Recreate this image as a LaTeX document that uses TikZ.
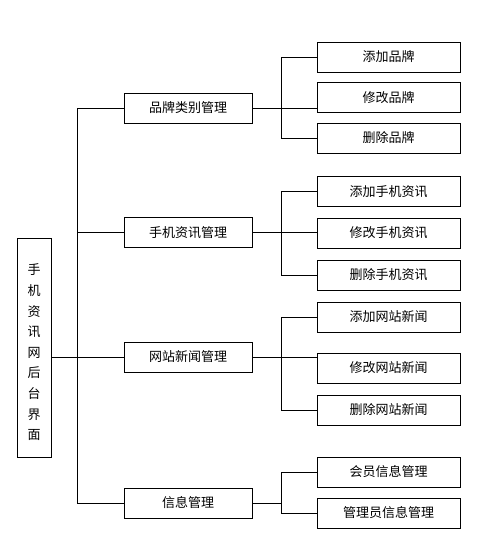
\documentclass[tikz,border=0pt]{standalone}
\usepackage{fontspec}
\newfontfamily\cjk{Noto Sans CJK SC}
\begin{document}
\begin{tikzpicture}[x=1pt,y=-1pt,line width=0.8pt]
        \tikzstyle{every node}=[draw,shape=rectangle,font=\cjk\fontsize{13}{15}\selectfont,line width=0.8pt];
        \tikzstyle{midbox}=[minimum width=128pt,minimum height=30pt];
        \tikzstyle{leafbox}=[minimum width=143pt,minimum height=30pt];
        \useasboundingbox (0,0) rectangle (485,555);
        % root
        \node[minimum width=34pt,minimum height=219pt,align=center,
              font=\cjk\fontsize{13}{20.6}\selectfont] (root) at (34,347.5)
              {\mbox{}\\手\\机\\资\\讯\\网\\后\\台\\界\\面};
        % second level
        \node[midbox] (brand) at (188,108) {品牌类别管理};
        \node[midbox] (phone) at (188,232.5) {手机资讯管理};
        \node[midbox] (news) at (188,357) {网站新闻管理};
        \node[midbox] (info) at (188,503) {信息管理};
        % leaves
        \node[leafbox] (addbrand) at (388.5,57) {添加品牌};
        \node[leafbox] (editbrand) at (388.5,97.5) {修改品牌};
        \node[leafbox] (delbrand) at (388.5,138) {删除品牌};
        \node[leafbox] (addphone) at (388.5,191.5) {添加手机资讯};
        \node[leafbox] (editphone) at (388.5,233) {修改手机资讯};
        \node[leafbox] (delphone) at (388.5,275) {删除手机资讯};
        \node[leafbox] (addnews) at (388.5,317) {添加网站新闻};
        \node[leafbox] (editnews) at (388.5,368) {修改网站新闻};
        \node[leafbox] (delnews) at (388.5,410) {删除网站新闻};
        \node[leafbox] (member) at (388.5,472) {会员信息管理};
        \node[leafbox] (admin) at (388.5,513) {管理员信息管理};
        % trunk
        \coordinate (trunk) at (77,0);
        \draw (brand.west) -| (trunk |- info.west) -- (info.west)
        (phone.west) -- (trunk |- phone.west)
        (root.east |- news.west) -- (news.west);
        % branches
        \coordinate (fork) at (281,0);
        \draw (addbrand.west) -| (fork |- delbrand.west) -- (delbrand.west)
        (brand.east) -- (brand.east -| editbrand.west);
        \draw (addphone.west) -| (fork |- delphone.west) -- (delphone.west)
        (phone.east) -- (phone.east -| editphone.west);
        \draw (addnews.west) -| (fork |- delnews.west) -- (delnews.west)
        (news.east) -- (news.east -| editnews.west);
        \draw (member.west) -| (fork |- admin.west) -- (admin.west)
        (info.east) -- (fork |- info.east);
    \end{tikzpicture}
\end{document}
